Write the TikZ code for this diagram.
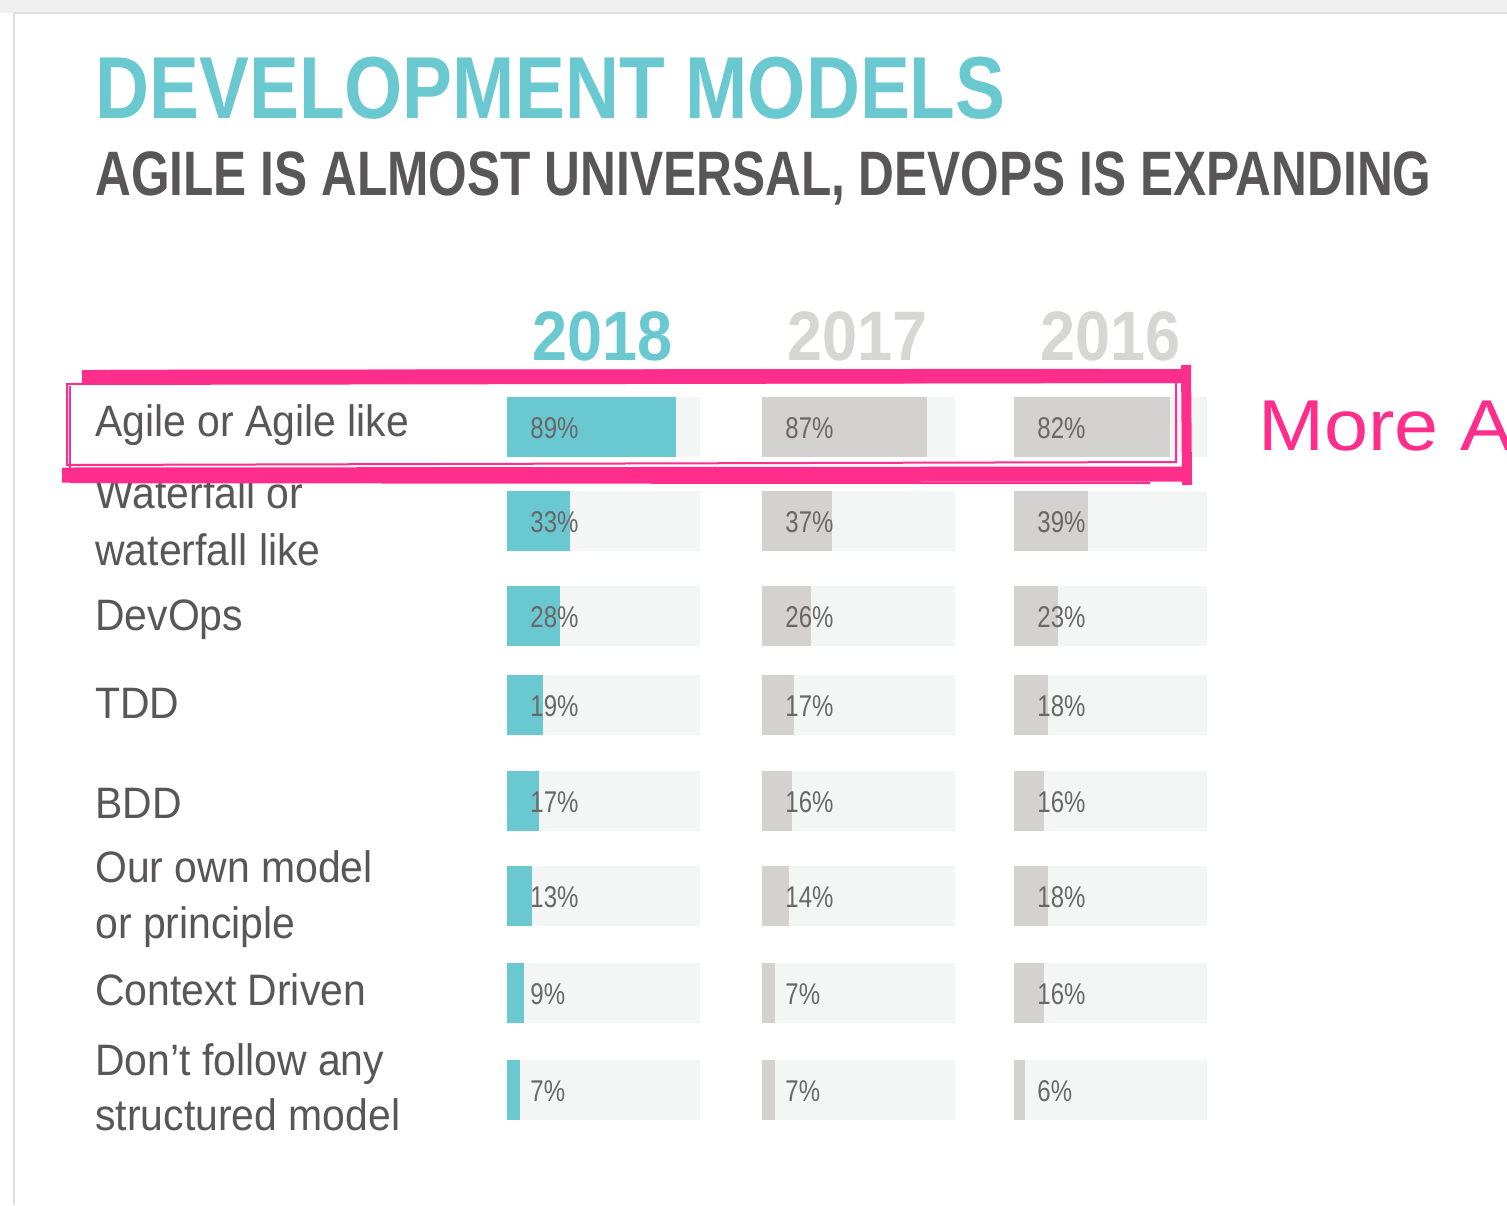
\documentclass[tikz,border=0pt]{standalone}
\usepackage{fontspec}
\setmainfont{Liberation Sans}
\newfontfamily\headfont[FakeStretch=0.85]{Liberation Sans}
\newfontfamily\subfont[FakeStretch=0.79]{Liberation Sans}
\newfontfamily\yearfont[FakeStretch=0.9]{Liberation Sans}
\newfontfamily\condfont[FakeStretch=0.93]{Liberation Sans}
\newfontfamily\numfont[FakeStretch=0.8]{Liberation Sans}
\newfontfamily\notefont[FakeStretch=1.1]{Liberation Sans}
\definecolor{agileteal}{RGB}{106,200,208}
\definecolor{bargray}{RGB}{212,210,208}
\definecolor{trackgray}{RGB}{244,246,245}
\definecolor{labelgray}{RGB}{88,86,86}
\definecolor{yeargray}{RGB}{214,214,212}
\definecolor{markpink}{RGB}{255,45,140}
\tikzset{
  lbl/.style={anchor=base west, inner sep=0pt, text=labelgray,
    font=\condfont\fontsize{22}{26}\selectfont},
  pct/.style={anchor=west, inner sep=0pt, text=labelgray!90,
    font=\numfont\fontsize{15}{18}\selectfont},
  yr/.style={anchor=base west, inner sep=0pt,
    font=\yearfont\bfseries\fontsize{35}{40}\selectfont},
  marker/.style={draw=markpink}
}
\begin{document}
\begin{tikzpicture}[x=0.5pt,y=-0.5pt]
  \useasboundingbox (0,0) rectangle (1507,1205);
  \clip (0,0) rectangle (1507,1205);
  % page and card
  \fill[gray!12] (0,0) rectangle (1507,13);
  \fill[white] (14,13) rectangle (1507,1205);
  \draw[gray!25, line width=1pt] (14,1205) -- (14,13) -- (1507,13);

  % headings
  \node[anchor=base west, inner sep=0pt, text=agileteal,
    font=\headfont\bfseries\fontsize{44}{50}\selectfont] (title) at (95,118) {DEVELOPMENT MODELS};
  \node[anchor=base west, inner sep=0pt, text=labelgray,
    font=\subfont\bfseries\fontsize{31.4}{36}\selectfont] (subtitle) at (95,195)
    {AGILE IS ALMOST UNIVERSAL, DEVOPS IS EXPANDING};
  \node[yr, text=agileteal] (y2018) at (532,360) {2018};
  \node[yr, text=yeargray] (y2017) at (787,360) {2017};
  \node[yr, text=yeargray] (y2016) at (1040,360) {2016};

  % bars
  \foreach \row/\top/\a/\b/\c in {1/397/89/87/82, 2/491/33/37/39, 3/586/28/26/23,
      4/675/19/17/18, 5/771/17/16/16, 6/866/13/14/18, 7/963/9/7/16, 8/1060/7/7/6} {
    \foreach \col/\x/\v/\fc in {1/507/\a/agileteal, 2/762/\b/bargray, 3/1014/\c/bargray} {
      \fill[trackgray] (\x,\top) rectangle ++(193,60);
      \fill[\fc] (\x,\top) rectangle ++(1.9*\v,60);
      \node[pct] (p-\row-\col) at (\x+23,\top+31) {\v\%};
    }
  }

  % row labels
  \foreach \txt/\base [count=\i] in {Agile or Agile like/436, Waterfall or/508,
      waterfall like/565, DevOps/630, TDD/718, BDD/818, Our own model/882,
      or principle/938, Context Driven/1005, Don’t follow any/1075,
      structured model/1130}
    \node[lbl] (l\i) at (95,\base) {\txt};

  % hand drawn marker
  \draw[marker, line width=1pt] (67,384) -- (1176,382) -- (1176,462) -- (67,465) -- cycle;
  \draw[marker, line width=0.8pt] (70,386) -- (70,468);
  \draw[marker, line width=7pt] (82,377) -- (1190,376);
  \draw[marker, line width=1.2pt] (110,371) -- (1100,370);
  \draw[marker, line width=7.5pt] (62,475) -- (1190,474);
  \draw[marker, line width=1.2pt] (70,482) -- (1150,483);
  \draw[marker, line width=5pt] (1186,365) -- (1187,485);
  \node[anchor=base west, inner sep=0pt, text=markpink,
    font=\notefont\fontsize{36}{42}\selectfont] (note) at (1258,450) {More A};
\end{tikzpicture}
\end{document}
